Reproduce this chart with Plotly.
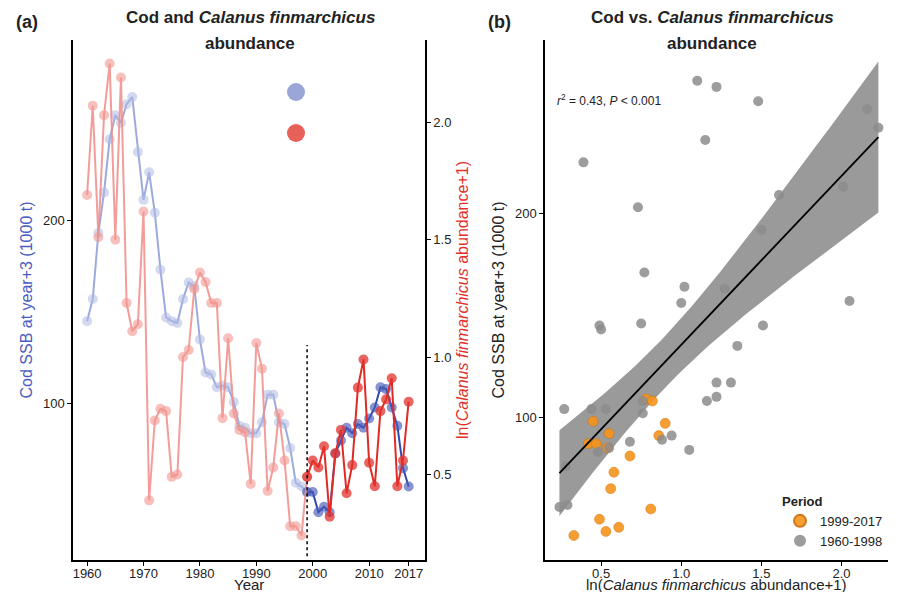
import numpy as np
import plotly.graph_objects as go

years = list(range(1960, 2018))
cod_ssb = [145, 157, 193, 215, 244, 257, 253, 263, 267, 237, 211, 226, 204, 173, 147, 145, 144, 157, 166, 164,
           135, 117, 116, 109, 110, 109, 101, 88, 87, 84, 84, 90, 105, 105, 90, 89, 76, 57, 55, 52,
           52, 41, 44, 41, 73, 80, 87, 84, 89, 87, 92, 98, 109, 108, 98, 88, 65, 55]
calanus = [1.69, 2.07, 1.51, 2.03, 2.25, 1.50, 2.19, 1.23, 1.11, 1.14, 1.62, 0.39, 0.73, 0.78, 0.77, 0.49, 0.50, 1.00, 1.03, 1.29,
           1.36, 1.32, 1.23, 1.23, 0.74, 1.08, 0.76, 0.69, 0.68, 0.46, 1.06, 0.95, 0.43, 0.53, 0.76, 0.56, 0.28, 0.28, 0.24, 0.49,
           0.56, 0.53, 0.62, 0.32, 0.59, 0.69, 0.42, 0.54, 0.87, 0.99, 0.55, 0.45, 0.77, 0.82, 0.91, 0.45, 0.56, 0.81]
split_year = 1999

# panel b scatter values
old_x = [0.39, 1.10, 1.22, 1.48, 1.15, 0.73, 1.61, 2.01, 2.16, 2.23, 1.50, 0.77, 1.27, 1.02, 1.00, 2.05, 0.49, 0.50, 0.75,
         1.51, 1.35, 1.16, 0.76, 0.76, 1.22, 1.31, 1.22, 0.27, 0.44, 0.53, 0.94, 0.88, 1.05, 0.68, 0.48, 0.55, 0.28, 0.24, 0.29]
old_y = [225, 265, 262, 255, 236, 203, 209, 213, 251, 242, 192, 171, 163, 164, 156, 157, 145, 143, 146,
         145, 135, 108, 108, 102, 117, 117, 110, 104, 104, 104, 91, 89, 84, 88, 83, 85, 76, 56, 57]
new_x = [0.33, 0.49, 0.53, 0.61, 0.81, 0.56, 0.58, 0.68, 0.42, 0.47, 0.54, 0.55, 0.45, 0.86, 0.90, 0.78, 0.82]
new_y = [42, 50, 44, 46, 55, 65, 73, 81, 87, 87, 85, 92, 98, 91, 97, 109, 108]

LB_LINE, LB_PT = "rgba(140,155,215,0.85)", "rgba(175,185,225,0.55)"
DB = "#3347b0"
LR_LINE, LR_PT = "rgba(240,140,135,0.85)", "rgba(242,150,145,0.6)"
DR = "#e02b25"

i0 = years.index(split_year)
fig = go.Figure()
# cod
fig.add_trace(go.Scatter(x=years[:i0 + 1], y=cod_ssb[:i0 + 1], mode="lines+markers",
                         line=dict(color=LB_LINE, width=2), marker=dict(size=10, color=LB_PT), showlegend=False))
fig.add_trace(go.Scatter(x=years[i0:], y=cod_ssb[i0:], mode="lines+markers",
                         line=dict(color=DB, width=2), marker=dict(size=10, color="rgba(70,90,185,0.65)"), showlegend=False))
# calanus
fig.add_trace(go.Scatter(x=years[:i0 + 1], y=calanus[:i0 + 1], mode="lines+markers", yaxis="y2",
                         line=dict(color=LR_LINE, width=2), marker=dict(size=10, color=LR_PT), showlegend=False))
fig.add_trace(go.Scatter(x=years[i0:], y=calanus[i0:], mode="lines+markers", yaxis="y2",
                         line=dict(color=DR, width=2), marker=dict(size=10, color="rgba(225,50,45,0.75)"), showlegend=False))

# regression with all points
ax = np.array(old_x + new_x)
ay = np.array(old_y + new_y)
b1, b0 = np.polyfit(ax, ay, 1)
n = len(ax)
res = ay - (b0 + b1 * ax)
s = np.sqrt(np.sum(res ** 2) / (n - 2))
xs = np.linspace(ax.min(), ax.max(), 80)
se = s * np.sqrt(1 / n + (xs - ax.mean()) ** 2 / np.sum((ax - ax.mean()) ** 2))
fit = b0 + b1 * xs
fig.add_trace(go.Scatter(x=np.concatenate([xs, xs[::-1]]), y=np.concatenate([fit + 2.01 * se, (fit - 2.01 * se)[::-1]]),
                         fill="toself", fillcolor="rgba(120,120,120,0.75)", line=dict(width=0),
                         xaxis="x3", yaxis="y3", showlegend=False, hoverinfo="skip"))
fig.add_trace(go.Scatter(x=new_x, y=new_y, mode="markers", xaxis="x3", yaxis="y3", name="1999-2017",
                         marker=dict(size=10, color="#f7941d", opacity=0.9, line=dict(color="#c86a00", width=0.5))))
fig.add_trace(go.Scatter(x=old_x, y=old_y, mode="markers", xaxis="x3", yaxis="y3", name="1960-1998",
                         marker=dict(size=10, color="#8c8c8c", opacity=0.85)))
fig.add_trace(go.Scatter(x=xs, y=fit, mode="lines", xaxis="x3", yaxis="y3", showlegend=False,
                         line=dict(color="black", width=1.8)))

axis = dict(showline=True, linecolor="black", linewidth=1.5, ticks="outside", ticklen=4, tickcolor="black",
            showgrid=False, zeroline=False, tickfont=dict(size=13, color="#222"), automargin=False)
font_t = dict(size=16, color="#222")
OFF = 8  # page offset of the figure in the window
W, H = 898 - 2 * OFF, 600 - 2 * OFF


def px(x):
    return (x - OFF) / W


def py(y):
    # paper y inside the plot area (window pixels 40..560)
    return (560 - y) / 520


def dot(x, y, color, r=9):
    return dict(type="circle", xref="paper", yref="paper", x0=px(x - r), x1=px(x + r),
                y0=py(y + r), y1=py(y - r), fillcolor=color, line=dict(width=0))


def note(text, x, y, size=16, xa="center", **kw):
    return dict(text=text, x=px(x), y=py(y), xref="paper", yref="paper", showarrow=False,
                font=dict(size=size, color=kw.pop("color", "#222")), xanchor=xa, yanchor="middle", **kw)


fig.update_layout(
    width=W, height=H, margin=dict(l=0, r=0, t=40 - OFF, b=H - (560 - OFF)),
    plot_bgcolor="white", paper_bgcolor="white",
    font=dict(family="Liberation Sans, Arial", color="#222"),
    xaxis=dict(axis, domain=[px(73), px(425)], range=[1957.5, 2019.9], ticklabelstandoff=-3,
               tickvals=[1960, 1970, 1980, 1990, 2000, 2010, 2017]),
    yaxis=dict(axis, domain=[0, 1], range=[15, 298], tickvals=[100, 200],
               title=dict(text="Cod SSB at year+3 (1000 t)", font=dict(size=16, color="#4a5cc0"), standoff=6)),
    yaxis2=dict(axis, overlaying="y", side="right", anchor="x", range=[0.136, 2.35],
                tickvals=[0.5, 1.0, 1.5, 2.0], ticktext=["0.5", "1.0", "1.5", "2.0"],
                title=dict(text="ln(<i>Calanus finmarchicus</i> abundance+1)", font=dict(size=16, color="#e0302a"), standoff=6)),
    xaxis3=dict(axis, domain=[px(545), px(888)], range=[0.15, 2.29], anchor="y3", ticklabelstandoff=-3,
                tickvals=[0.5, 1.0, 1.5, 2.0], ticktext=["0.5", "1.0", "1.5", "2.0"]),
    yaxis3=dict(axis, domain=[0, 1], range=[30, 285], anchor="x3", tickvals=[100, 200],
                title=dict(text="Cod SSB at year+3 (1000 t)", font=font_t, standoff=6)),
    legend=dict(x=px(888), y=py(556), xanchor="right", yanchor="bottom", bgcolor="rgba(0,0,0,0)",
                title=dict(text="<b>Period</b>", font=dict(size=13)), font=dict(size=13),
                itemsizing="constant"),
    shapes=[dict(type="line", xref="x", yref="y", x0=split_year, x1=split_year, y0=17, y1=132,
                 line=dict(color="black", width=1.5, dash="dot")),
            dot(296, 92, "#9aa6d8"), dot(296, 133, "#e8605a")],
    annotations=[
        note("<b>(a)</b>", 14, 22, 18, xa="left"),
        note("<b>(b)</b>", 486, 22, 18, xa="left"),
        note("<b>Cod and <i>Calanus finmarchicus</i></b>", 250, 18, 17),
        note("<b>abundance</b>", 250, 44, 17),
        note("<b>Cod vs. <i>Calanus finmarchicus</i></b>", 712, 18, 17),
        note("<b>abundance</b>", 712, 44, 17),
        note("Year", 249, 584, 15),
        note("ln(<i>Calanus finmarchicus</i> abundance+1)", 716, 584, 15),
        note("<i>r</i><sup>2</sup> = 0.43, <i>P</i> < 0.001", 555, 100, 12, xa="left"),
    ],
)
fig.write_html("out.html")
